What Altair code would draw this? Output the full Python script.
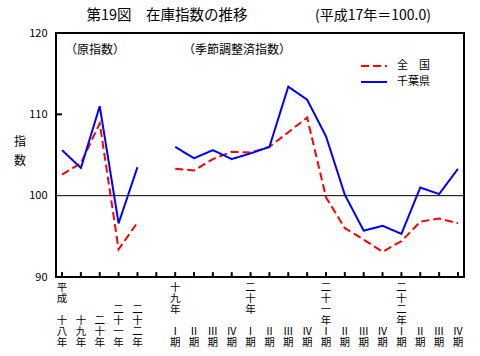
import altair as alt
import pandas as pd

# ---- data -------------------------------------------------------------
series_names = ["全　国", "千葉県"]
annual_slots = [0, 1, 2, 3, 4]
quarter_slots = list(range(6, 22))

national_annual = [102.6, 104.0, 108.9, 93.4, 96.7]
chiba_annual = [105.6, 103.4, 111.0, 96.6, 103.5]
national_quarter = [103.3, 103.1, 104.5, 105.4, 105.3, 106.0, 107.8, 109.6,
                    99.8, 96.0, 94.6, 93.1, 94.4, 96.8, 97.2, 96.6]
chiba_quarter = [106.0, 104.6, 105.6, 104.5, 105.2, 106.0, 113.4, 111.8,
                 107.3, 100.1, 95.7, 96.3, 95.3, 101.0, 100.2, 103.3]

tick_slots = list(range(22))
# vertical tick labels, one character per line (6 lines, "" = empty line)
x_labels = [
    ["平", "成", "", "十", "八", "年"],
    ["", "", "", "十", "九", "年"],
    ["", "", "", "二", "十", "年"],
    ["", "", "二", "十", "一", "年"],
    ["", "", "二", "十", "二", "年"],
    ["", "", "", "", "", ""],
    ["十", "九", "年", "", "Ⅰ", "期"],
    ["", "", "", "", "Ⅱ", "期"],
    ["", "", "", "", "Ⅲ", "期"],
    ["", "", "", "", "Ⅳ", "期"],
    ["二", "十", "年", "", "Ⅰ", "期"],
    ["", "", "", "", "Ⅱ", "期"],
    ["", "", "", "", "Ⅲ", "期"],
    ["", "", "", "", "Ⅳ", "期"],
    ["二", "十", "一", "年", "Ⅰ", "期"],
    ["", "", "", "", "Ⅱ", "期"],
    ["", "", "", "", "Ⅲ", "期"],
    ["", "", "", "", "Ⅳ", "期"],
    ["二", "十", "二", "年", "Ⅰ", "期"],
    ["", "", "", "", "Ⅱ", "期"],
    ["", "", "", "", "Ⅲ", "期"],
    ["", "", "", "", "Ⅳ", "期"],
]
y_ticks = [90, 100, 110, 120]

# ---- table ------------------------------------------------------------
rows = []
for s, v in zip(annual_slots, national_annual):
    rows.append({"slot": s, "value": v, "series": series_names[0], "seg": "a"})
for s, v in zip(annual_slots, chiba_annual):
    rows.append({"slot": s, "value": v, "series": series_names[1], "seg": "a"})
for s, v in zip(quarter_slots, national_quarter):
    rows.append({"slot": s, "value": v, "series": series_names[0], "seg": "q"})
for s, v in zip(quarter_slots, chiba_quarter):
    rows.append({"slot": s, "value": v, "series": series_names[1], "seg": "q"})
df = pd.DataFrame(rows)

FONT = "Noto Sans CJK JP"
xscale = alt.Scale(domain=[-0.32, 21.32], nice=False, zero=False)
yscale = alt.Scale(domain=[90, 120], nice=False, zero=False)
yaxis = alt.Axis(values=y_ticks, title=None, ticks=False, domain=False,
                 grid=False, labelPadding=9, labelFontSize=11,
                 labelFont=FONT, labelColor="#000")

legend_opts = dict(title=None, orient="none", legendX=304, legendY=25,
                   symbolType="stroke", symbolSize=676, symbolStrokeWidth=2,
                   clipHeight=16, labelOffset=9, labelFont=FONT, labelFontSize=11,
                   labelColor="#000", rowPadding=0)

lines = alt.Chart(df).mark_line(strokeWidth=2).encode(
    x=alt.X("slot:Q", scale=xscale, axis=None),
    y=alt.Y("value:Q", scale=yscale, axis=yaxis),
    color=alt.Color("series:N",
                    scale=alt.Scale(domain=series_names, range=["#ff0000", "#0000ff"]),
                    legend=alt.Legend(**legend_opts)),
    strokeDash=alt.StrokeDash("series:N",
                              scale=alt.Scale(domain=series_names, range=[[8, 4], [1, 0]]),
                              legend=alt.Legend(**legend_opts)),
    detail="seg:N",
)

# x tick labels: one text layer per character row, x placed by the x scale
label_layers = []
for k in range(6):
    d = pd.DataFrame({"slot": [s for s in tick_slots if x_labels[s][k]],
                      "ch": [x_labels[s][k] for s in tick_slots if x_labels[s][k]]})
    label_layers.append(
        alt.Chart(d).mark_text(font=FONT, fontSize=10.5, baseline="middle",
                               align="center", color="#000")
        .encode(x=alt.X("slot:Q", scale=xscale, axis=None),
                y=alt.value(255 + 11 * k), text="ch:N")
    )

base_df = pd.DataFrame({"ref": [100]})
ref_line = alt.Chart(base_df).mark_rule(color="#000", strokeWidth=1).encode(
    y=alt.Y("ref:Q", scale=yscale, axis=yaxis)
)

tick_df = pd.DataFrame({"slot": tick_slots, "y0": [90] * 22, "y1": [90.6] * 22})
bottom_ticks = alt.Chart(tick_df).mark_rule(color="#000", strokeWidth=2).encode(
    x=alt.X("slot:Q", scale=xscale, axis=None),
    y=alt.Y("y0:Q", scale=yscale, axis=yaxis), y2="y1:Q"
)
ltick_df = pd.DataFrame({"x0": [-0.32], "x1": [-0.0], "y": [110]})
left_tick = alt.Chart(ltick_df).mark_rule(color="#000", strokeWidth=2).encode(
    x=alt.X("x0:Q", scale=xscale, axis=None), x2="x1:Q",
    y=alt.Y("y:Q", scale=yscale, axis=yaxis)
)


def label(text, x, y, size, align="left", baseline="middle", **kw):
    return alt.Chart(alt.Data(values=[{"t": text}])).mark_text(
        font=FONT, fontSize=size, align=align, baseline=baseline,
        color="#000", **kw
    ).encode(x=alt.value(x), y=alt.value(y), text="t:N")


title1 = label("第19図　在庫指数の推移", 111, -17, 14.5, align="center")
title2 = label("(平成17年＝100.0)", 317, -17, 14, align="center")
sub1 = label("（原指数）", 9, 17, 12)
sub2 = label("（季節調整済指数）", 127, 17, 12)
ytitle = label("指\n数", -36, 104, 12, align="center", baseline="top",
               lineBreak="\n", lineHeight=19)

chart = alt.layer(
    ref_line, bottom_ticks, left_tick, lines, *label_layers,
    title1, title2, sub1, sub2, ytitle
).properties(
    width=408, height=244,
    autosize=alt.AutoSizeParams(type="none"),
    padding={"left": 56, "top": 33, "right": 16, "bottom": 79},
    background="#ffffff",
).configure_view(stroke="#000", strokeWidth=2)

chart.save("out.html", embed_options={"renderer": "svg", "actions": False})
